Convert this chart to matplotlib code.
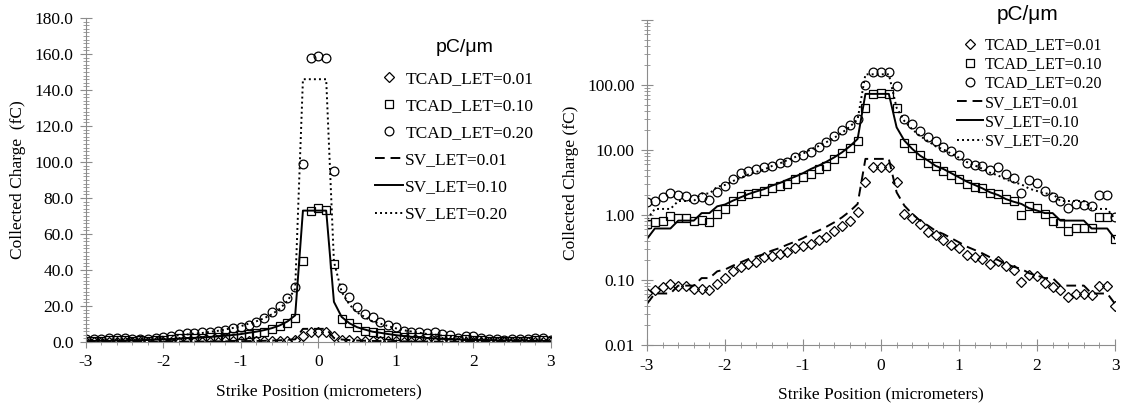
import numpy as np
import matplotlib.pyplot as plt
from matplotlib.ticker import MultipleLocator, FixedLocator, NullFormatter, LogLocator
from matplotlib.lines import Line2D

plt.rcParams['font.family'] = ['Liberation Serif', 'DejaVu Serif']
plt.rcParams['axes.unicode_minus'] = False

# strike positions, -3.0 .. 3.0 um in 0.1 steps
x = np.round(np.arange(-30, 31) / 10, 1)

tcad_001 = [0.063, 0.071, 0.077, 0.087, 0.080, 0.082, 0.074, 0.074, 0.069, 0.087,
            0.106, 0.139, 0.157, 0.176, 0.191, 0.223, 0.231, 0.251, 0.273, 0.307,
            0.330, 0.358, 0.418, 0.453, 0.574, 0.686, 0.818, 1.12, 3.25, 5.4,
            5.5, 5.4, 3.25, 1.05, 0.89, 0.73, 0.555, 0.49, 0.418, 0.345,
            0.307, 0.243, 0.223, 0.21, 0.176, 0.198, 0.162, 0.144, 0.092, 0.119,
            0.114, 0.09, 0.077, 0.071, 0.054, 0.061, 0.061, 0.059, 0.082, 0.082,
            0.040]
tcad_010 = [0.73, 0.77, 0.82, 0.98, 0.89, 0.89, 0.82, 0.85, 0.79, 1.03,
            1.24, 1.66, 1.94, 2.10, 2.18, 2.37, 2.57, 2.83, 3.00, 3.60,
            3.80, 4.30, 5.10, 5.70, 7.30, 9.00, 10.8, 13.6, 45.0, 73.0,
            74.5, 73.5, 43.5, 12.8, 10.6, 8.4, 6.2, 5.7, 4.8, 4.1,
            3.6, 3.0, 2.67, 2.57, 2.18, 2.1, 1.76, 1.66, 1.0, 1.39,
            1.27, 1.03, 0.82, 0.75, 0.57, 0.62, 0.62, 0.62, 0.92, 0.92,
            0.43]
tcad_020 = [1.57, 1.64, 1.87, 2.18, 2.03, 1.98, 1.76, 1.87, 1.70, 2.23,
            2.76, 3.58, 4.43, 4.81, 5.10, 5.40, 5.70, 6.20, 6.60, 7.90,
            8.40, 9.30, 11.0, 13.5, 16.5, 20.0, 24.5, 30.5, 99.0, 158.0,
            159.0, 158.0, 95.0, 30.0, 25.0, 19.5, 15.7, 13.9, 11.0, 9.6,
            8.5, 6.3, 5.8, 5.6, 5.0, 5.4, 4.3, 3.7, 2.2, 3.4,
            3.1, 2.3, 1.9, 1.65, 1.3, 1.48, 1.45, 1.4, 2.0, 2.0,
            0.92]
sv_001 = [0.043, 0.062, 0.062, 0.062, 0.082, 0.082, 0.082, 0.107, 0.107, 0.136,
          0.145, 0.166, 0.187, 0.210, 0.230, 0.250, 0.283, 0.310, 0.350, 0.390,
          0.440, 0.510, 0.575, 0.660, 0.770, 0.920, 1.14, 1.48, 7.30, 7.30,
          7.30, 7.30, 2.23, 1.39, 1.04, 0.82, 0.69, 0.57, 0.51, 0.44,
          0.38, 0.326, 0.29, 0.257, 0.223, 0.203, 0.176, 0.16, 0.148, 0.127,
          0.117, 0.107, 0.107, 0.082, 0.082, 0.082, 0.082, 0.062, 0.062, 0.062,
          0.043]
sv_010 = [0.43, 0.62, 0.62, 0.62, 0.82, 0.82, 0.82, 1.07, 1.07, 1.36,
          1.45, 1.66, 1.87, 2.10, 2.30, 2.50, 2.83, 3.10, 3.50, 3.90,
          4.40, 5.10, 5.75, 6.60, 7.70, 9.20, 11.4, 14.8, 73.0, 73.0,
          73.0, 73.0, 22.3, 13.9, 10.4, 8.2, 6.9, 5.7, 5.1, 4.4,
          3.8, 3.26, 2.9, 2.57, 2.23, 2.03, 1.76, 1.6, 1.48, 1.27,
          1.17, 1.07, 1.07, 0.82, 0.82, 0.82, 0.82, 0.62, 0.62, 0.62,
          0.43]
sv_020 = [0.86, 1.24, 1.24, 1.24, 1.64, 1.64, 1.64, 2.14, 2.14, 2.72,
          2.90, 3.32, 3.74, 4.20, 4.60, 5.00, 5.66, 6.20, 7.00, 7.80,
          8.80, 10.2, 11.5, 13.2, 15.4, 18.4, 22.8, 29.6, 146.0, 146.0,
          146.0, 146.0, 44.6, 27.8, 20.8, 16.4, 13.8, 11.4, 10.2, 8.8,
          7.6, 6.52, 5.8, 5.14, 4.46, 4.06, 3.52, 3.2, 2.96, 2.54,
          2.34, 2.14, 2.14, 1.64, 1.64, 1.64, 1.64, 1.24, 1.24, 1.24,
          0.86]

tcad_labels = ['TCAD_LET=0.01', 'TCAD_LET=0.10', 'TCAD_LET=0.20']
sv_labels = ['SV_LET=0.01', 'SV_LET=0.10', 'SV_LET=0.20']

grey = '#8c8c8c'
mk = [('D', 5.0), ('s', 5.8), ('o', 6.3)]
ls = [(0, (5, 3)), '-', (0, (1, 1.6))]


def draw(ax):
    for y, (m, s) in zip([tcad_001, tcad_010, tcad_020], mk):
        ax.plot(x, y, ls='none', marker=m, ms=s, mfc='none', mec='black', mew=0.9)
    for y, st in zip([sv_001, sv_010, sv_020], ls):
        ax.plot(x, y, color='black', ls=st, lw=1.4)
    for side in ['top', 'right']:
        ax.spines[side].set_visible(False)
    for side in ['left', 'bottom']:
        ax.spines[side].set_color(grey)
    ax.tick_params(which='both', colors=grey, labelcolor='black', labelsize=12.5)
    ax.tick_params(which='major', direction='inout', length=8, pad=5)
    ax.tick_params(which='minor', direction='inout', length=4)
    ax.set_xlim(-3, 3)
    ax.xaxis.set_major_locator(MultipleLocator(1))
    ax.xaxis.set_minor_locator(MultipleLocator(0.2))
    ax.set_xlabel('Strike Position (micrometers)', fontsize=12.5, labelpad=9)


def legend(ax, anchor, fs, hl, spacing):
    handles = []
    for (m, s) in mk:
        handles.append(Line2D([], [], ls='none', marker=m, ms=s, mfc='none', mec='black', mew=0.9))
    for st in ls:
        handles.append(Line2D([], [], color='black', ls=st, lw=1.4))
    ax.legend(handles, tcad_labels + sv_labels, loc='upper left',
              bbox_to_anchor=anchor, bbox_transform=ax.figure.transFigure,
              frameon=False, fontsize=fs, handlelength=hl, handletextpad=0.15,
              labelspacing=spacing, borderpad=0, borderaxespad=0)


fig = plt.figure(figsize=(11.28, 4.08), dpi=100)

ax1 = fig.add_axes([0.0762, 0.1618, 0.4122, 0.794])
draw(ax1)
ax1.set_ylim(0, 180)
ax1.yaxis.set_major_locator(MultipleLocator(20))
ax1.yaxis.set_minor_locator(MultipleLocator(2))
ax1.yaxis.set_major_formatter(lambda v, p: f'{v:.1f}')
ax1.set_ylabel('Collected Charge  (fC)', fontsize=12.5, labelpad=6)
legend(ax1, (0.3324, 0.826), 12.5, 1.6, 0.63)
fig.text(465 / 1128, 1 - 47 / 408, 'pC/μm', family='Liberation Sans', fontsize=14,
         ha='center', va='center')

ax2 = fig.add_axes([0.5736, 0.1544, 0.4149, 0.7966])
draw(ax2)
ax2.set_yscale('log')
ax2.set_ylim(0.01, 1000)
ax2.yaxis.set_major_locator(FixedLocator([0.01, 0.1, 1, 10, 100, 1000]))
ax2.yaxis.set_minor_locator(LogLocator(base=10, subs=np.arange(2, 10)))
ax2.yaxis.set_minor_formatter(NullFormatter())
ax2.yaxis.set_major_formatter(lambda v, p: '' if v > 500 else f'{v:.2f}')
ax2.set_ylabel('Collected Charge (fC)', fontsize=12.5, labelpad=6)
legend(ax2, (0.8488, 0.909), 11.5, 1.58, 0.2)
fig.text(1028 / 1128, 1 - 14 / 408, 'pC/μm', family='Liberation Sans', fontsize=15,
         ha='center', va='center')

fig.savefig('out.png', dpi=100)
